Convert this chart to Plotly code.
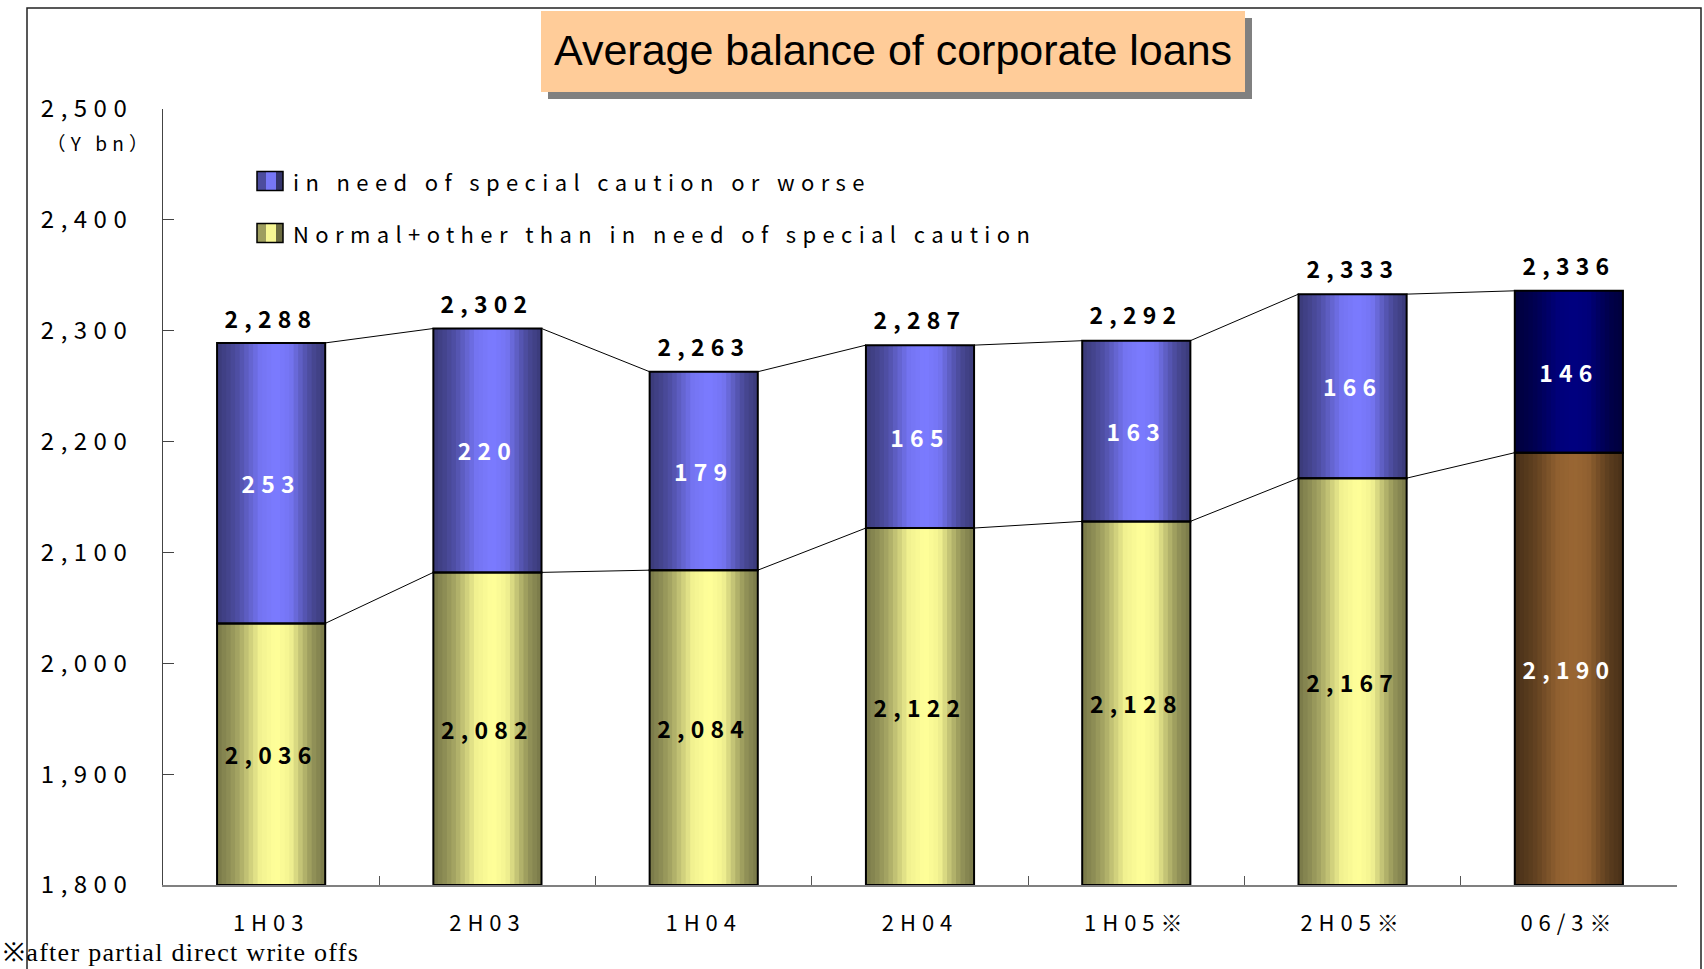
import json
import numpy as np
import plotly.graph_objects as go

# ---- data (Y bn) ----
categories = ["1H03", "2H03", "1H04", "2H04", "1H05※", "2H05※", "06/3※"]
normal_vals = [2036, 2082, 2084, 2122, 2128, 2167, 2190]
caution_vals = [253, 220, 179, 165, 163, 166, 146]
totals = [2288, 2302, 2263, 2287, 2292, 2333, 2336]
series_names = ["in need of special caution or worse",
                "Normal+other than in need of special caution"]
y_ticks = [1800, 1900, 2000, 2100, 2200, 2300, 2400, 2500]
title_text = "Average balance of corporate loans"
unit_text = "（Y bn）"
footnote_text = "※after partial direct write offs"

# ---- page geometry ----
W, H = 1704, 969
ML, MR, MT, MB = 163, 27, 109, 84
PW, PH = W - ML - MR, H - MT - MB


def px(x):
    return (x - ML) / PW


def py(y):
    return (H - MB - y) / PH


GOTHIC = "Noto Sans CJK JP"
SERIF = "Liberation Serif"
n = len(categories)
xs = list(range(n))
last = n - 1
y_min, y_max = y_ticks[0], y_ticks[-1]
bar_w = 0.5

# base colours; the final period is drawn in a darker palette
caution_rgb = [(0, 0, 128) if i == last else (123, 123, 255) for i in xs]
normal_rgb = [(153, 102, 51) if i == last else (255, 255, 153) for i in xs]

# cylinder-style horizontal shading profile (brightness factor across a bar)
shade_t = [0, 0.1, 0.2, 0.3, 0.4, 0.55, 0.68, 0.78, 0.88, 1.0]
shade_f = [0.47, 0.55, 0.65, 0.8, 0.95, 1.0, 0.95, 0.75, 0.58, 0.47]
n_strips = 24
strip_w = bar_w / n_strips


def shade(rgb, f):
    return "rgb(%d,%d,%d)" % tuple(int(round(c * f)) for c in rgb)


def fmt(v):
    return f"{v:,}"


caution_tops = [a + b for a, b in zip(normal_vals, caution_vals)]

fig = go.Figure()

layers = [
    ([v - y_min for v in normal_vals], [y_min] * n, normal_rgb),
    (caution_vals, normal_vals, caution_rgb),
]
for heights, bases, rgbs in layers:
    for k in range(n_strips):
        f = float(np.interp((k + 0.5) / n_strips, shade_t, shade_f))
        fig.add_trace(go.Bar(
            x=xs, y=heights, base=bases,
            offset=-bar_w / 2 + k * strip_w, width=bar_w - k * strip_w,
            marker=dict(color=[shade(c, f) for c in rgbs], line=dict(width=0)),
            showlegend=False, hoverinfo="skip",
        ))

# outlines + segment value labels
fig.add_trace(go.Bar(
    x=xs, y=[v - y_min for v in normal_vals], base=[y_min] * n, width=bar_w,
    marker=dict(color="rgba(0,0,0,0)", line=dict(color="black", width=2)),
    text=[fmt(v) for v in normal_vals], textposition="inside",
    insidetextanchor="middle", textangle=0, constraintext="none",
    textfont=dict(family=GOTHIC, size=23, weight="bold",
                  color=["white" if i == last else "black" for i in xs]),
    name=series_names[1], showlegend=False, hoverinfo="skip",
))
fig.add_trace(go.Bar(
    x=xs, y=caution_vals, base=normal_vals, width=bar_w,
    marker=dict(color="rgba(0,0,0,0)", line=dict(color="black", width=2)),
    text=[fmt(v) for v in caution_vals], textposition="inside",
    insidetextanchor="middle", textangle=0, constraintext="none",
    textfont=dict(family=GOTHIC, size=23, weight="bold", color="white"),
    name=series_names[0], showlegend=False, hoverinfo="skip",
))


# series lines joining neighbouring bar corners
def connector(levels):
    lx, ly = [], []
    for i in range(n - 1):
        lx += [i + bar_w / 2, i + 1 - bar_w / 2, None]
        ly += [levels[i], levels[i + 1], None]
    return lx, ly


for levels in (caution_tops, normal_vals):
    lx, ly = connector(levels)
    fig.add_trace(go.Scatter(
        x=lx, y=ly, xaxis="x2", mode="lines",
        line=dict(color="black", width=1), showlegend=False, hoverinfo="skip",
    ))

annotations = []
for i in xs:
    annotations.append(dict(
        x=i, y=totals[i], xref="x", yref="y", text=fmt(totals[i]),
        showarrow=False, yanchor="bottom", yshift=7,
        font=dict(family=GOTHIC, size=23, color="black", weight="bold"),
    ))

# title
annotations.append(dict(
    x=px(893), y=py(50), xref="paper", yref="paper", text=title_text,
    showarrow=False, xanchor="center", yanchor="middle",
    font=dict(family="Liberation Sans", size=43, color="black"),
))
# unit
annotations.append(dict(
    x=px(100), y=py(143), xref="paper", yref="paper", text=unit_text,
    showarrow=False, xanchor="center", yanchor="middle",
    font=dict(family=GOTHIC, size=19, color="black"),
))
# legend texts
legend_rows = [181, 233]
for name, yrow in zip(series_names, legend_rows):
    annotations.append(dict(
        x=px(291), y=py(yrow), xref="paper", yref="paper", text=name,
        showarrow=False, xanchor="left", yanchor="middle",
        font=dict(family=GOTHIC, size=22, color="black"),
    ))
# footnote
annotations.append(dict(
    x=px(1), y=py(953), xref="paper", yref="paper", text=footnote_text,
    showarrow=False, xanchor="left", yanchor="middle",
    font=dict(family=SERIF, size=26, color="black"),
))

shapes = []
# outer frame
shapes.append(dict(type="rect", xref="paper", yref="paper",
                   x0=px(27), x1=px(1701), y0=py(985), y1=py(8),
                   line=dict(color="#222222", width=1.5), layer="below"))
# title box with drop shadow
shapes.append(dict(type="rect", xref="paper", yref="paper",
                   x0=px(548), x1=px(1252), y0=py(99), y1=py(18),
                   fillcolor="#808080", line=dict(width=0)))
shapes.append(dict(type="rect", xref="paper", yref="paper",
                   x0=px(541), x1=px(1245), y0=py(92), y1=py(11),
                   fillcolor="#ffcc99", line=dict(width=0)))
# legend keys
key_rgbs = [caution_rgb[0], normal_rgb[0]]
for rgb, yrow in zip(key_rgbs, legend_rows):
    y0, y1 = py(yrow + 9.5), py(yrow - 9.5)
    for xa, xb, f in [(257, 266, 0.62), (266, 276, 0.97), (276, 283, 0.42)]:
        shapes.append(dict(type="rect", xref="paper", yref="paper",
                           x0=px(xa), x1=px(xb), y0=y0, y1=y1,
                           fillcolor=shade(rgb, f), line=dict(width=0)))
    shapes.append(dict(type="rect", xref="paper", yref="paper",
                       x0=px(257), x1=px(283), y0=y0, y1=y1,
                       line=dict(color="black", width=1.5)))

fig.update_layout(
    width=W, height=H,
    margin=dict(l=ML, r=MR, t=MT, b=MB),
    paper_bgcolor="white", plot_bgcolor="white",
    barmode="overlay", showlegend=False,
    xaxis=dict(
        range=[-0.5, n - 0.5], tickvals=xs, ticktext=categories,
        ticks="", showgrid=False, zeroline=False,
        showline=True, linecolor="#808080", linewidth=1.5,
        tickfont=dict(family=GOTHIC, size=22, color="black"),
        ticklabelstandoff=18,
    ),
    xaxis2=dict(
        range=[-0.5, n - 0.5], overlaying="x", anchor="y", side="bottom",
        tickvals=[k - 0.5 for k in range(n + 1)], ticks="inside", ticklen=9,
        tickcolor="#555555", showticklabels=False, showgrid=False,
        zeroline=False, showline=False,
    ),
    yaxis=dict(
        range=[y_min, y_max], tickvals=y_ticks,
        ticktext=[fmt(v) for v in y_ticks],
        ticks="inside", ticklen=11, tickcolor="#444444",
        showline=True, linecolor="#444444", linewidth=1,
        showgrid=False, zeroline=False,
        tickfont=dict(family=GOTHIC, size=24, color="black"),
        ticklabelstandoff=24,
    ),
    annotations=annotations,
    shapes=shapes,
)

# letter spacing: wide for the gothic labels (legend texts keep their left
# edge), slight for the serif footnote (also left-aligned)
post_js = """
var gd = document.getElementById('{plot_id}');
var leftAligned = %s;
function spaceText() {
  gd.querySelectorAll('text').forEach(function (t) {
    if (t.getAttribute('data-spaced')) return;
    var ff = t.style.fontFamily || '';
    var spacing = null;
    if (ff.indexOf('CJK') !== -1) {
      spacing = leftAligned.indexOf(t.textContent) !== -1 ? '0.29em' : '0.27em';
    } else if (ff.indexOf('Serif') !== -1) {
      spacing = '0.05em';
    }
    if (spacing === null) return;
    if (leftAligned.indexOf(t.textContent) !== -1) {
      var w0 = t.getBBox().width;
      var x = parseFloat(t.getAttribute('x')) || 0;
      t.setAttribute('text-anchor', 'start');
      t.setAttribute('x', x - w0 / 2);
    }
    t.style.letterSpacing = spacing;
    t.setAttribute('data-spaced', '1');
  });
}
spaceText();
gd.on('plotly_afterplot', spaceText);
""" % json.dumps(series_names + [footnote_text], ensure_ascii=False)

fig.write_html("out.html", post_script=post_js)
